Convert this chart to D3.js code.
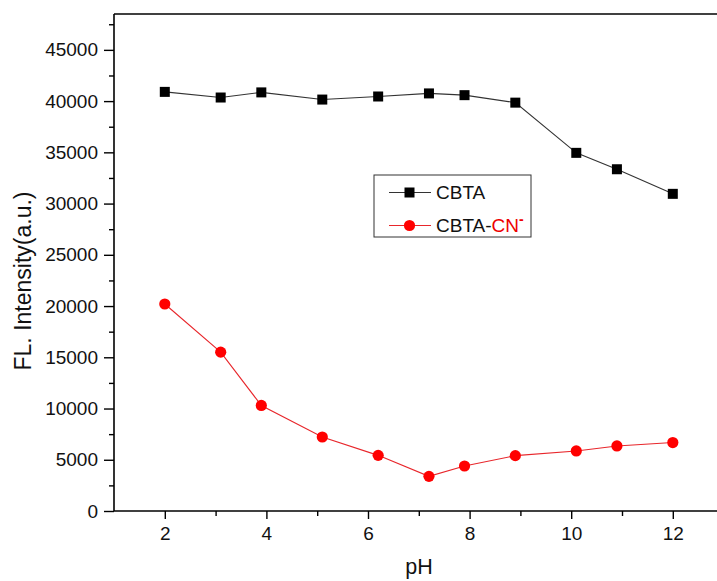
<!DOCTYPE html>
<html><head><meta charset="utf-8">
<script src="https://cdn.jsdelivr.net/npm/d3@7"></script>
<style>body{margin:0;background:#fff}svg{display:block;font-family:"Liberation Sans",Arial,sans-serif}</style>
</head><body>
<svg id="c" width="717" height="581"></svg>
<script>
const phValues = [2, 3.1, 3.9, 5.1, 6.2, 7.2, 7.9, 8.9, 10.1, 10.9, 12];
const cbta = [40900, 40350, 40850, 40150, 40450, 40750, 40580, 39850, 34950, 33350, 30950];
const cbtaCN = [20200, 15500, 10300, 7220, 5430, 3380, 4390, 5400, 5860, 6350, 6680];
const xTicks = [2, 4, 6, 8, 10, 12];
const yTicks = [0, 5000, 10000, 15000, 20000, 25000, 30000, 35000, 40000, 45000];

const svg = d3.select("#c");
const L = 114, T = 14, B = 511, R = 723.6;
const x = d3.scaleLinear().domain([1, 13]).range([L, R]);
const y = d3.scaleLinear().domain([0, 48500]).range([B, T]);
const FF = "Liberation Sans, Arial, sans-serif";

// frame
svg.append("line").attr("x1", L).attr("x2", 717).attr("y1", T).attr("y2", T).attr("stroke", "#000").attr("stroke-width", 1.6);

// y axis
const yAx = svg.append("g").attr("transform", `translate(${L},0)`)
  .call(d3.axisLeft(y).tickValues(yTicks).tickSize(10).tickPadding(6).tickFormat(d3.format("d")));
yAx.attr("font-size", 19).attr("font-family", FF);
yAx.select(".domain").attr("stroke-width", 1.6).attr("d", `M-0,${B}V${T}`);
yAx.selectAll("text").attr("font-size", 19).attr("fill", "#111");
yAx.selectAll("line").attr("stroke-width", 1.4);
svg.append("g").attr("transform", `translate(${L},0)`)
  .call(d3.axisLeft(y).tickValues(d3.range(2500, 48500, 5000)).tickSize(5).tickFormat(""))
  .call(g => g.select(".domain").remove())
  .selectAll("line").attr("stroke-width", 1.4);

// x axis
const xAx = svg.append("g").attr("transform", `translate(0,${B})`)
  .call(d3.axisBottom(x).tickValues(xTicks).tickSize(8).tickPadding(8));
xAx.attr("font-size", 19).attr("font-family", FF);
xAx.select(".domain").attr("stroke-width", 1.6).attr("d", `M${L},0H717`);
xAx.selectAll("text").attr("font-size", 19).attr("fill", "#111");
xAx.selectAll("line").attr("stroke-width", 1.4);
svg.append("g").attr("transform", `translate(0,${B})`)
  .call(d3.axisBottom(x).tickValues([3, 5, 7, 9, 11]).tickSize(5).tickFormat(""))
  .call(g => g.select(".domain").remove())
  .selectAll("line").attr("stroke-width", 1.4);

// titles
svg.append("text").attr("x", 419).attr("y", 574).attr("text-anchor", "middle").attr("font-size", 21.5).attr("fill", "#111").text("pH");
svg.append("text").attr("transform", "translate(31,281) rotate(-90)").attr("text-anchor", "middle").attr("font-size", 23).attr("fill", "#111").text("FL. Intensity(a.u.)");

// series
const line = d3.line().x((d, i) => x(phValues[i])).y(d => y(d));
svg.append("path").datum(cbta).attr("d", line).attr("fill", "none").attr("stroke", "#333").attr("stroke-width", 1.1);
svg.append("path").datum(cbtaCN).attr("d", line).attr("fill", "none").attr("stroke", "#e8262b").attr("stroke-width", 1.1);
svg.selectAll("rect.m").data(cbta).join("rect").attr("class", "m")
  .attr("x", (d, i) => x(phValues[i]) - 5).attr("y", d => y(d) - 5).attr("width", 10).attr("height", 10).attr("fill", "#000");
svg.selectAll("circle.m").data(cbtaCN).join("circle").attr("class", "m")
  .attr("cx", (d, i) => x(phValues[i])).attr("cy", d => y(d)).attr("r", 5.6).attr("fill", "#f00");

// legend
const lg = svg.append("g");
lg.append("rect").attr("x", 374).attr("y", 175).attr("width", 157).attr("height", 62).attr("fill", "#fff").attr("stroke", "#333").attr("stroke-width", 1);
lg.append("line").attr("x1", 389).attr("x2", 431).attr("y1", 192.5).attr("y2", 192.5).attr("stroke", "#333").attr("stroke-width", 1.1);
lg.append("rect").attr("x", 404.5).attr("y", 187.5).attr("width", 10).attr("height", 10).attr("fill", "#000");
lg.append("line").attr("x1", 389).attr("x2", 431).attr("y1", 225.5).attr("y2", 225.5).attr("stroke", "#e8262b").attr("stroke-width", 1.1);
lg.append("circle").attr("cx", 409.5).attr("cy", 225.5).attr("r", 5.6).attr("fill", "#f00");
lg.append("text").attr("x", 436).attr("y", 199).attr("font-size", 19).attr("fill", "#111").text("CBTA");
const t2 = lg.append("text").attr("x", 436).attr("y", 232).attr("font-size", 19).attr("fill", "#111");
t2.append("tspan").text("CBTA-");
t2.append("tspan").attr("fill", "#e00").text("CN");
t2.append("tspan").attr("fill", "#e00").attr("font-size", 14).attr("font-weight", "bold").attr("dy", -8).text("-");
</script>
</body></html>
